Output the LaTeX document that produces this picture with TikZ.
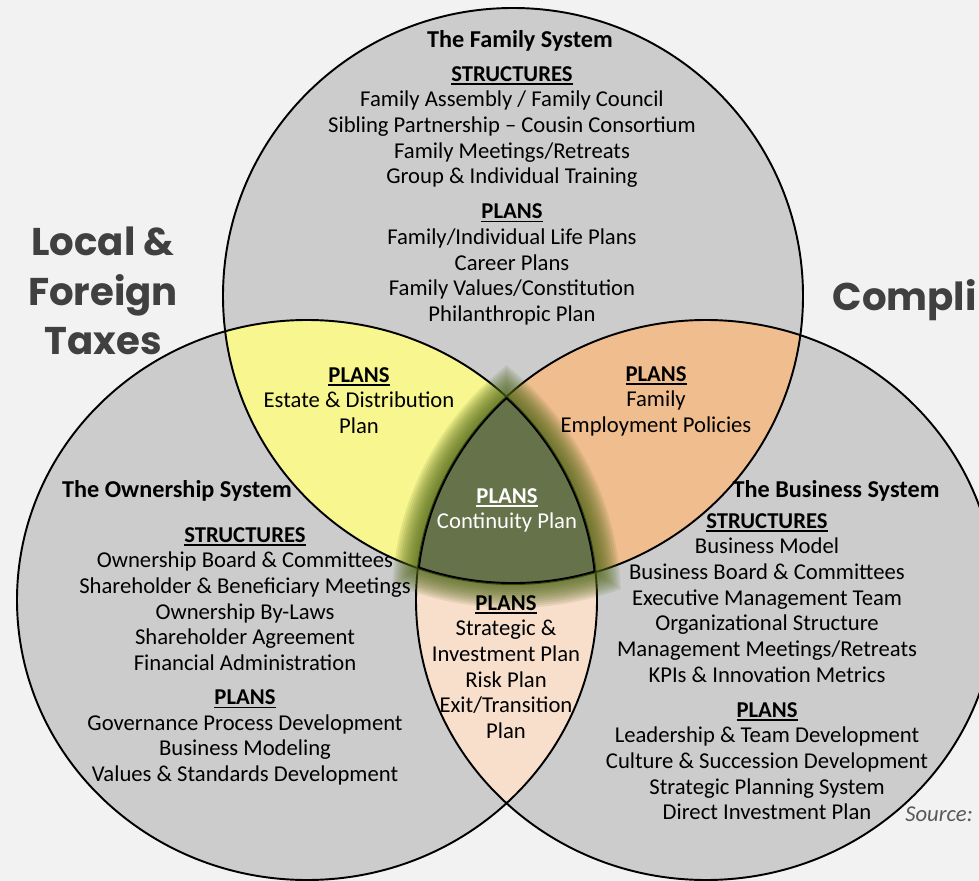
\documentclass[tikz,border=0pt]{standalone}
\usepackage{fontspec}
\setmainfont{Carlito}
\newfontfamily\sidefont{Poppins}

\definecolor{paper}{HTML}{F2F2F2}
\definecolor{ringgray}{HTML}{CCCCCC}
\definecolor{estate}{HTML}{F7F68F}
\definecolor{employ}{HTML}{F0BD8E}
\definecolor{invest}{HTML}{F8DFCC}
\definecolor{core}{HTML}{66724A}
\definecolor{coreglow}{HTML}{4C6414}
\definecolor{sidegray}{HTML}{404040}
\definecolor{srcgray}{HTML}{595959}

\newcommand{\hd}[1]{\setbox0\hbox{\bfseries #1}\rlap{\rule[-2pt]{\wd0}{0.85pt}}\box0}

\begin{document}
\begin{tikzpicture}[
  x=0.02cm, y=-0.02cm,
  every node/.style={align=center, inner sep=0pt},
  body/.style={font=\fontsize{12.9}{14.6}\selectfont},
  title/.style={font=\fontsize{13.8}{14.6}\selectfont\bfseries},
  side/.style={font=\sidefont\bfseries\fontsize{22}{28}\selectfont, text=sidegray},
  ring/.style={draw=black, line width=1.1pt}
]
\useasboundingbox (0,0) rectangle (979,881);
\fill[paper] (0,0) rectangle (979,881);
\clip (0,0) rectangle (979,881);

\coordinate (fam) at (513,296);
\coordinate (own) at (307,600);
\coordinate (bus) at (706,600);
\def\famring{(fam) ellipse [x radius=290, y radius=288]}
\def\ownring{(own) ellipse [x radius=290, y radius=280]}
\def\busring{(bus) ellipse [x radius=290, y radius=280]}

% circles and overlaps
\fill[ringgray] \famring \ownring \busring;
\begin{scope} \clip \famring; \fill[estate] \ownring; \end{scope}
\begin{scope} \clip \famring; \fill[employ] \busring; \end{scope}
\begin{scope} \clip \ownring; \fill[invest] \busring; \end{scope}
\draw[ring] \famring \ownring \busring;

% soft glow round the middle
\foreach \e in {24,22,...,2} {
  \pgfmathsetmacro\ra{290+\e}
  \pgfmathsetmacro\rb{288+\e}
  \pgfmathsetmacro\rc{280+\e}
  \begin{scope}
    \clip (fam) ellipse [x radius=\ra, y radius=\rb];
    \clip (own) ellipse [x radius=\ra, y radius=\rc];
    \fill[coreglow, opacity=0.11] (bus) ellipse [x radius=\ra, y radius=\rc];
  \end{scope}
}
\begin{scope}
  \clip \famring; \clip \ownring; \clip \busring;
  \fill[core] \famring;
  \draw[draw=black, line width=2.2pt] \famring \ownring \busring;
\end{scope}

% family circle
\node[title] (famtitle) at (520,41) {The Family System};
\node[body, anchor=north] (famtext) at (512,66) {\hd{STRUCTURES}\\
  Family Assembly / Family Council\\
  Sibling Partnership -- Cousin Consortium\\
  Family Meetings/Retreats\\
  Group \& Individual Training\\[5.3pt]
  \hd{PLANS}\\
  Family/Individual Life Plans\\
  Career Plans\\
  Family Values/Constitution\\
  Philanthropic Plan};

% ownership circle
\node[title] (owntitle) at (177,491) {The Ownership System};
\node[body, anchor=north] (owntext) at (245,527) {\hd{STRUCTURES}\\
  Ownership Board \& Committees\\
  Shareholder \& Beneficiary Meetings\\
  Ownership By-Laws\\
  Shareholder Agreement\\
  Financial Administration\\[4.8pt]
  \hd{PLANS}\\
  Governance Process Development\\
  Business Modeling\\
  Values \& Standards Development};

% business circle
\node[title] (bustitle) at (836,491) {The Business System};
\node[body, anchor=north] (bustext) at (767,513) {\hd{STRUCTURES}\\
  Business Model\\
  Business Board \& Committees\\
  Executive Management Team\\
  Organizational Structure\\
  Management Meetings/Retreats\\
  KPIs \& Innovation Metrics\\[5.3pt]
  \hd{PLANS}\\
  Leadership \& Team Development\\
  Culture \& Succession Development\\
  Strategic Planning System\\
  Direct Investment Plan};

% overlaps
\node[body, anchor=north] (estatetext) at (359,367) {\hd{PLANS}\\ Estate \& Distribution\\ Plan};
\node[body, anchor=north] (employtext) at (656,366) {\hd{PLANS}\\ Family\\ Employment Policies};
\node[body, anchor=north, text=white] (coretext) at (507,488) {\hd{PLANS}\\ Continuity Plan};
\node[body, anchor=north] (investtext) at (506,595) {\hd{PLANS}\\ Strategic \&\\ Investment Plan\\ Risk Plan\\ Exit/Transition\\ Plan};

% side labels
\node[side] (taxes) at (103,291) {Local \&\\ Foreign\\ Taxes};
\node[side, anchor=east] (compli) at (977,300) {Compli};
\node[anchor=west, font=\fontsize{12.9}{14.6}\selectfont\itshape, text=srcgray] (source) at (905,814) {Source:};
\end{tikzpicture}
\end{document}
